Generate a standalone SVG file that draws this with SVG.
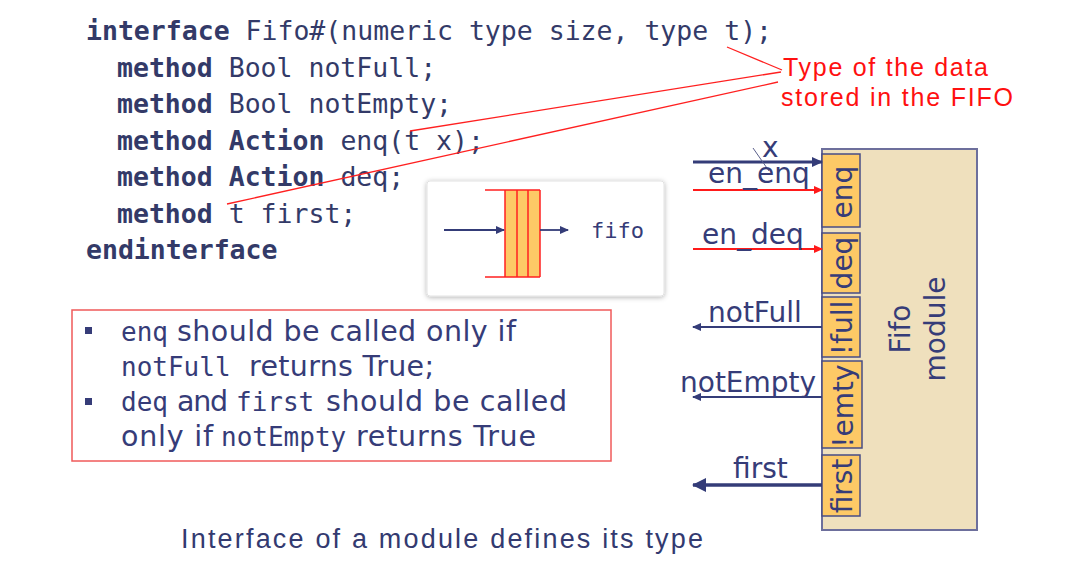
<svg xmlns="http://www.w3.org/2000/svg" width="1067" height="572" viewBox="0 0 1067 572">
<style>
.code{font-family:"DejaVu Sans Mono","Liberation Mono",monospace;font-size:26.5px;fill:#333a68}
.b{font-weight:bold}
.lbl{font-family:"DejaVu Sans","Liberation Sans",sans-serif;font-size:28px;fill:#363c78}
.txt{font-family:"DejaVu Sans","Liberation Sans",sans-serif;font-size:28.5px;fill:#363c78}
.mono{font-family:"DejaVu Sans Mono","Liberation Mono",monospace;font-size:26px;fill:#363c78}
.note{font-family:"Liberation Sans","DejaVu Sans",sans-serif;font-size:25px;fill:#ff1010}
.cap{font-family:"Liberation Sans","DejaVu Sans",sans-serif;font-size:27px;fill:#333a70}
.port{fill:#fdc966;stroke:#474c86;stroke-width:1.5}
.blue{stroke:#343c78;fill:none}
.red{stroke:#ff1a1a;fill:none}
.ann{stroke:#ff2020;stroke-width:1.3;fill:none}
</style>
<defs>
<marker id="ab" markerUnits="userSpaceOnUse" markerWidth="11" markerHeight="10" refX="10" refY="5" orient="auto"><path d="M0,0 L11,5 L0,10 z" fill="#343c78"/></marker>
<marker id="abs" markerUnits="userSpaceOnUse" markerWidth="9" markerHeight="8" refX="8" refY="4" orient="auto"><path d="M0,0 L9,4 L0,8 z" fill="#343c78"/></marker>
<marker id="abl" markerUnits="userSpaceOnUse" markerWidth="14" markerHeight="14" refX="13" refY="7" orient="auto"><path d="M0,0 L14,7 L0,14 z" fill="#343c78"/></marker>
<marker id="ar" markerUnits="userSpaceOnUse" markerWidth="9" markerHeight="8" refX="8" refY="4" orient="auto"><path d="M0,0 L9,4 L0,8 z" fill="#ff1a1a"/></marker>
<filter id="sh" x="-10%" y="-10%" width="120%" height="130%"><feDropShadow dx="0" dy="1" stdDeviation="2.5" flood-color="#000" flood-opacity="0.3"/></filter>
</defs>
<rect width="1067" height="572" fill="#fff"/>

<g id="code">
<text class="code" x="86" y="40"><tspan class="b">interface</tspan> Fifo#(numeric type size, type t);</text>
<text class="code" x="117" y="77"><tspan class="b">method</tspan> Bool notFull;</text>
<text class="code" x="117" y="113"><tspan class="b">method</tspan> Bool notEmpty;</text>
<text class="code" x="117" y="150"><tspan class="b">method</tspan> <tspan class="b">Action</tspan> enq(t x);</text>
<text class="code" x="117" y="186"><tspan class="b">method</tspan> <tspan class="b">Action</tspan> deq;</text>
<text class="code" x="117" y="223"><tspan class="b">method</tspan> t first;</text>
<text class="code b" x="86" y="259">endinterface</text>
</g>

<g id="annotation">
<path class="ann" d="M727,47 L782,70 M410,131 L781,72 M227,204 L778,82"/>
<text class="note" x="783" y="76" textLength="205">Type of the data</text>
<text class="note" x="781" y="106" textLength="232">stored in the FIFO</text>
</g>

<g id="fifo-inset">
<rect x="427" y="181" width="237" height="115" rx="3" fill="#fff" stroke="#e2e2e2" filter="url(#sh)"/>
<rect x="505" y="190" width="35" height="87" fill="#fdc966"/>
<path d="M485,190 H540 M485,277 H540 M505,190 V277 M517,190 V277 M528,190 V277 M540,190 V277" stroke="#ff2020" stroke-width="1.5" fill="none"/>
<line class="blue" x1="444" y1="230" x2="504" y2="230" stroke-width="1.8" marker-end="url(#abs)"/>
<line class="blue" x1="540" y1="230" x2="568" y2="230" stroke-width="1.8" marker-end="url(#abs)"/>
<text class="mono" x="591" y="238" style="font-size:22px">fifo</text>
</g>

<g id="conditions">
<rect x="72" y="310" width="539" height="151" fill="#fff" stroke="#f05a5a" stroke-width="1.5"/>
<rect x="85" y="327" width="7" height="7" fill="#363c78"/>
<rect x="85" y="398" width="7" height="7" fill="#363c78"/>
<text class="mono" x="121" y="341">enq</text>
<text class="txt" x="177" y="341" textLength="339">should be called only if</text>
<text class="mono" x="121" y="376">notFull</text>
<text class="txt" x="249" y="376" textLength="185">returns True;</text>
<text class="mono" x="121" y="411">deq</text>
<text class="txt" x="177" y="411" textLength="51">and</text>
<text class="mono" x="236" y="411">first</text>
<text class="txt" x="326" y="411" textLength="241">should be called</text>
<text class="txt" x="121" y="446" textLength="92">only if</text>
<text class="mono" x="221" y="446">notEmpty</text>
<text class="txt" x="356" y="446" textLength="180">returns True</text>
</g>

<g id="fifo-module">
<rect x="822" y="149" width="155" height="381" fill="#efe0bd" stroke="#6d6f9c" stroke-width="2"/>
<text class="lbl" transform="translate(910,329) rotate(-90)" text-anchor="middle">Fifo</text>
<text class="lbl" transform="translate(945,329) rotate(-90)" text-anchor="middle">module</text>
</g>

<g id="port-enq">
<rect class="port" x="822" y="154" width="38" height="73"/>
<text class="lbl" transform="translate(852,192) rotate(-90)" text-anchor="middle">enq</text>
</g>
<g id="port-deq">
<rect class="port" x="822" y="233" width="38" height="60"/>
<text class="lbl" transform="translate(852,263) rotate(-90)" text-anchor="middle">deq</text>
</g>
<g id="port-full">
<rect class="port" x="822" y="297" width="38" height="60"/>
<text class="lbl" transform="translate(852,328) rotate(-90)" text-anchor="middle">!full</text>
</g>
<g id="port-emty">
<rect class="port" x="822" y="361" width="40" height="87"/>
<text class="lbl" transform="translate(853,406) rotate(-90)" text-anchor="middle">!emty</text>
</g>
<g id="port-first">
<rect class="port" x="822" y="455" width="38" height="61"/>
<text class="lbl" transform="translate(852,486) rotate(-90)" text-anchor="middle">first</text>
</g>

<g id="connectors">
<line class="blue" x1="693" y1="162" x2="822" y2="162" stroke-width="3" marker-end="url(#ab)"/>
<line x1="753" y1="148" x2="769" y2="171" stroke="#5a5f8a" stroke-width="1"/>
<line class="red" x1="693" y1="190" x2="822" y2="190" stroke-width="2" marker-end="url(#ar)"/>
<line class="red" x1="693" y1="249" x2="822" y2="249" stroke-width="2" marker-end="url(#ar)"/>
<line class="blue" x1="822" y1="327" x2="693" y2="327" stroke-width="2" marker-end="url(#abs)"/>
<line class="blue" x1="822" y1="397" x2="693" y2="397" stroke-width="2" marker-end="url(#abs)"/>
<line class="blue" x1="822" y1="485" x2="693" y2="485" stroke-width="3.5" marker-end="url(#abl)"/>
</g>

<g id="signal-labels">
<text class="lbl" x="762" y="157">x</text>
<text class="lbl" x="708" y="183">en_enq</text>
<text class="lbl" x="702" y="244">en_deq</text>
<text class="lbl" x="708" y="322">notFull</text>
<text class="lbl" x="680" y="392">notEmpty</text>
<text class="lbl" x="733" y="478">first</text>
</g>

<g id="caption">
<text class="cap" x="181" y="548" textLength="522">Interface of a module defines its type</text>
</g>
</svg>
